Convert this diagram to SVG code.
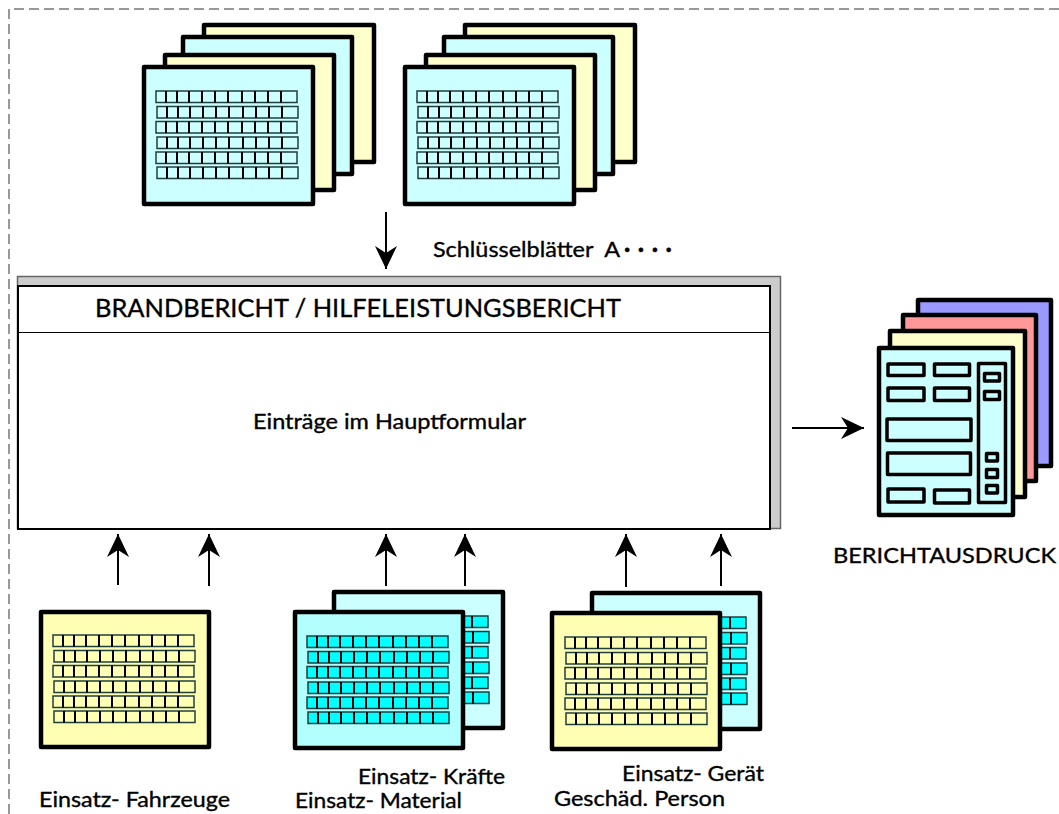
<svg xmlns="http://www.w3.org/2000/svg" width="1059" height="814" viewBox="0 0 1059 814">
<style>
text{font-family:"Lato","Liberation Sans",sans-serif;fill:#000;font-size:21px;stroke:#000;stroke-width:.35px}
.page{stroke:#000;stroke-width:4.5;stroke-linejoin:round}
.box{stroke:#000;stroke-width:3.5;stroke-linejoin:round;fill:#ccffff}
.y{fill:#ffffcc}.c{fill:#ccffff}.c2{fill:#b3ffff}.r{fill:#ff9999}.b{fill:#9999ff}.y2{fill:#ffffb3}
.line{stroke:#000;stroke-width:2;fill:none}
.cellc{fill:#00ffff}
</style>
<defs>
<marker id="head" markerUnits="userSpaceOnUse" markerWidth="24" markerHeight="26" refX="23" refY="12" orient="auto">
<path d="M0 1L23 12L0 23L7 12Z" fill="#000"/>
</marker>
<g id="row">
<rect x="0" y="0" width="141" height="11.500" stroke="#1f3f3f" stroke-width="1.500"/>
<path d="M10 0V11.500M21 0V11.500M33 0V11.500M46 0V11.500M59 0V11.500M72 0V11.500M86 0V11.500M99 0V11.500M112 0V11.500M125 0V11.500" stroke="#000" stroke-width="2" fill="none"/>
</g>
<g id="grid">
<use href="#row" x="0" y="0"/><use href="#row" x="1" y="15.500"/><use href="#row" x="0" y="30.500"/><use href="#row" x="1" y="46"/><use href="#row" x="0" y="61"/><use href="#row" x="1" y="76"/>
</g>
</defs>
<rect width="1059" height="814" fill="#fff"/>
<path id="frame" d="M9 814V9H1059" fill="none" stroke="#777" stroke-width="1.500" stroke-dasharray="10 5"/>

<g id="key-stack-1">
<rect class="page y" x="204" y="25" width="170" height="137"/>
<rect class="page c" x="183" y="37" width="169" height="137"/>
<rect class="page y" x="165" y="55" width="169" height="135"/>
<rect class="page c" x="144" y="67" width="169" height="137"/>
<use href="#grid" x="156" y="91" class="c"/>
</g>
<g id="key-stack-2">
<rect class="page y" x="465" y="25" width="170" height="137"/>
<rect class="page c" x="444" y="37" width="169" height="137"/>
<rect class="page y" x="426" y="55" width="169" height="135"/>
<rect class="page c" x="405" y="67" width="169" height="137"/>
<use href="#grid" x="417" y="91" class="c"/>
</g>

<g id="main-form">
<rect x="17.500" y="276.500" width="763" height="252" fill="#ccc" stroke="#666" stroke-width="1.500"/>
<rect x="18" y="286" width="752" height="243" fill="#fff" stroke="#000" stroke-width="2"/>
<path d="M18 332.500H770" stroke="#000" stroke-width="1.200"/>
<text x="95" y="317" style="font-size:25px" textLength="526" lengthAdjust="spacingAndGlyphs">BRANDBERICHT / HILFELEISTUNGSBERICHT</text>
<text x="253" y="429" textLength="273" lengthAdjust="spacingAndGlyphs">Einträge im Hauptformular</text>
</g>

<g id="report-stack">
<rect class="page b" x="918" y="300" width="133" height="166"/>
<rect class="page r" x="903" y="315" width="133" height="166"/>
<rect class="page y" x="890" y="331" width="135" height="166"/>
<rect class="page c" x="879" y="348" width="134" height="167"/>
<rect class="box" x="888" y="364" width="36" height="11.500"/>
<rect class="box" x="934.500" y="364" width="35" height="11.500"/>
<rect class="box" x="888" y="388" width="36" height="12.500"/>
<rect class="box" x="934.500" y="388" width="35" height="12.500"/>
<rect class="box" x="887" y="419" width="84" height="21.500"/>
<rect class="box" x="887.500" y="453" width="83" height="21.500"/>
<rect class="box" x="888" y="489" width="36" height="13"/>
<rect class="box" x="934.500" y="490" width="35" height="13"/>
<rect class="box" x="978.500" y="363.500" width="27" height="139"/>
<rect class="box" x="984.500" y="373.500" width="15" height="7.500"/>
<rect class="box" x="984.500" y="391.500" width="15" height="8"/>
<rect class="box" x="986.500" y="453.500" width="11" height="7.500"/>
<rect class="box" x="986.500" y="469.500" width="11" height="8"/>
<rect class="box" x="986.500" y="485.500" width="11" height="7.500"/>
</g>

<g id="vehicles">
<rect class="page y2" x="41" y="612" width="168" height="135"/>
<use href="#grid" x="53" y="635" class="y2"/>
</g>
<g id="forces-material">
<rect class="page c" x="334" y="592" width="169" height="136"/>
<use href="#grid" x="347" y="616" class="cellc"/>
<rect class="page c2" x="295" y="612" width="168" height="136"/>
<use href="#grid" x="307" y="636" class="cellc"/>
</g>
<g id="equipment-person">
<rect class="page c" x="592" y="593" width="168" height="136"/>
<use href="#grid" x="605" y="617" class="cellc"/>
<rect class="page y2" x="552" y="613" width="168" height="136"/>
<use href="#grid" x="565" y="637" class="y2"/>
</g>

<g id="connectors">
<path class="line" d="M386 212V269" marker-end="url(#head)"/>
<path class="line" d="M792 428H864" marker-end="url(#head)"/>
<path class="line" d="M118 585V534" marker-end="url(#head)"/>
<path class="line" d="M209 586V534" marker-end="url(#head)"/>
<path class="line" d="M386 586V534" marker-end="url(#head)"/>
<path class="line" d="M465 586V534" marker-end="url(#head)"/>
<path class="line" d="M626 587V534" marker-end="url(#head)"/>
<path class="line" d="M721 586V534" marker-end="url(#head)"/>
</g>

<g id="labels">
<text x="433" y="257" textLength="187" lengthAdjust="spacingAndGlyphs" xml:space="preserve">Schlüsselblätter  A</text>
<text x="624" y="257" font-weight="700" style="letter-spacing:7.500px;font-size:23px">····</text>
<text x="833" y="563" textLength="223" lengthAdjust="spacingAndGlyphs">BERICHTAUSDRUCK</text>
<text x="39" y="807" textLength="191" lengthAdjust="spacingAndGlyphs">Einsatz- Fahrzeuge</text>
<text x="358" y="784" textLength="147" lengthAdjust="spacingAndGlyphs">Einsatz- Kräfte</text>
<text x="295" y="808" textLength="167" lengthAdjust="spacingAndGlyphs">Einsatz- Material</text>
<text x="622" y="781" textLength="142" lengthAdjust="spacingAndGlyphs">Einsatz- Gerät</text>
<text x="554" y="806" textLength="171" lengthAdjust="spacingAndGlyphs">Geschäd. Person</text>
</g>
</svg>
